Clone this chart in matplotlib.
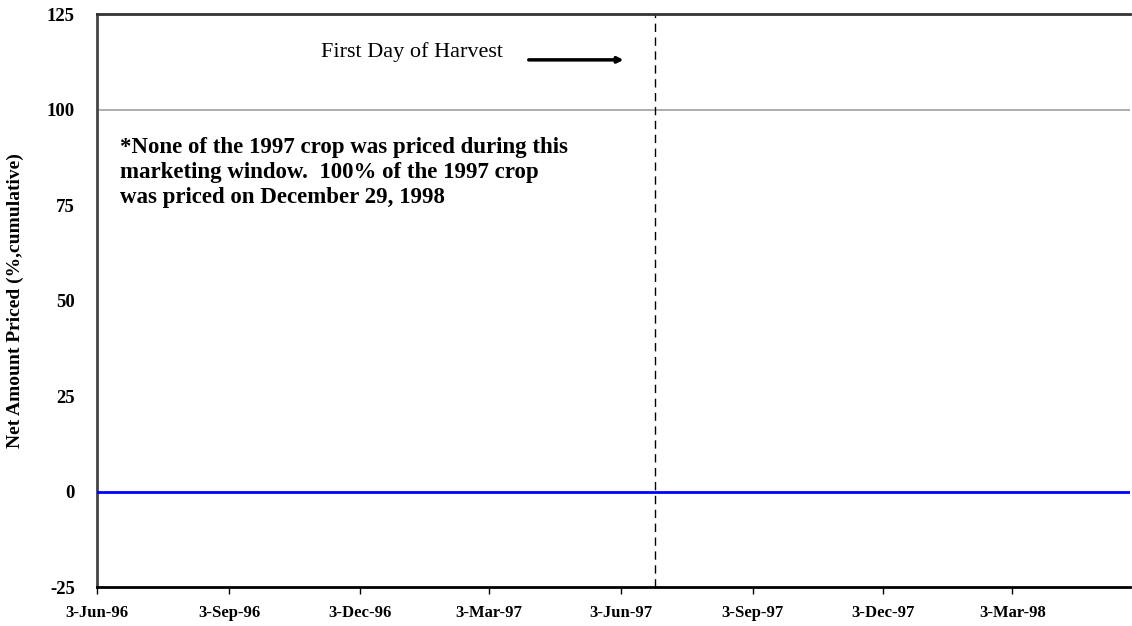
import matplotlib
matplotlib.use("Agg")
import matplotlib.pyplot as plt
from datetime import datetime

# data
dates = [datetime(1996, 6, 3), datetime(1998, 5, 24)]
net_priced = [0, 0]
harvest_day = datetime(1997, 6, 27)
tick_dates = [datetime(1996, 6, 3), datetime(1996, 9, 3), datetime(1996, 12, 3),
              datetime(1997, 3, 3), datetime(1997, 6, 3), datetime(1997, 9, 3),
              datetime(1997, 12, 3), datetime(1998, 3, 3)]
tick_labels = ["3-Jun-96", "3-Sep-96", "3-Dec-96", "3-Mar-97",
               "3-Jun-97", "3-Sep-97", "3-Dec-97", "3-Mar-98"]
y_ticks = [-25, 0, 25, 50, 75, 100, 125]

plt.rcParams["font.family"] = ["Liberation Serif", "DejaVu Serif"]

fig = plt.figure(figsize=(11.32, 6.26), dpi=100)
ax = fig.add_axes([0.0857, 0.0623, 0.9125, 0.9153])

ax.axhline(100, color="#a0a0a0", lw=1.2, zorder=1)
ax.plot(dates, net_priced, color="#0000ff", lw=2, zorder=3)
ax.axvline(harvest_day, color="black", lw=1, ls=(0, (6, 4)), zorder=2)

ax.set_xlim(dates[0], dates[-1])
ax.set_ylim(-25, 125)
ax.set_xticks(tick_dates)
ax.set_xticklabels(tick_labels, fontsize=12, fontweight="bold")
ax.set_yticks(y_ticks)
ax.set_yticklabels([str(v) for v in y_ticks], fontsize=13.5, fontweight="bold")
ax.tick_params(axis="x", length=5, width=1, pad=8)
ax.tick_params(axis="y", length=0, pad=16)

ax.set_ylabel("Net Amount Priced (%,cumulative)", fontsize=14,
              fontweight="bold", labelpad=16)

ax.spines["right"].set_visible(False)
ax.spines["top"].set_color("#333333")
ax.spines["top"].set_linewidth(2)
ax.spines["left"].set_color("#444444")
ax.spines["left"].set_linewidth(2)
ax.spines["bottom"].set_color("black")
ax.spines["bottom"].set_linewidth(2)

ax.text(datetime(1996, 11, 6), 115, "First Day of Harvest", fontsize=16,
        va="center", ha="left")
ax.annotate("", xy=(datetime(1997, 6, 7), 113), xytext=(datetime(1997, 3, 29), 113),
            arrowprops=dict(arrowstyle="-|>", color="black", lw=2.5,
                            mutation_scale=8))

ax.text(datetime(1996, 6, 19), 83.5,
        "*None of the 1997 crop was priced during this\n"
        "marketing window.  100% of the 1997 crop\n"
        "was priced on December 29, 1998",
        fontsize=16.5, fontweight="bold", va="center", ha="left",
        linespacing=1.24)

fig.savefig("out.png", dpi=100)
